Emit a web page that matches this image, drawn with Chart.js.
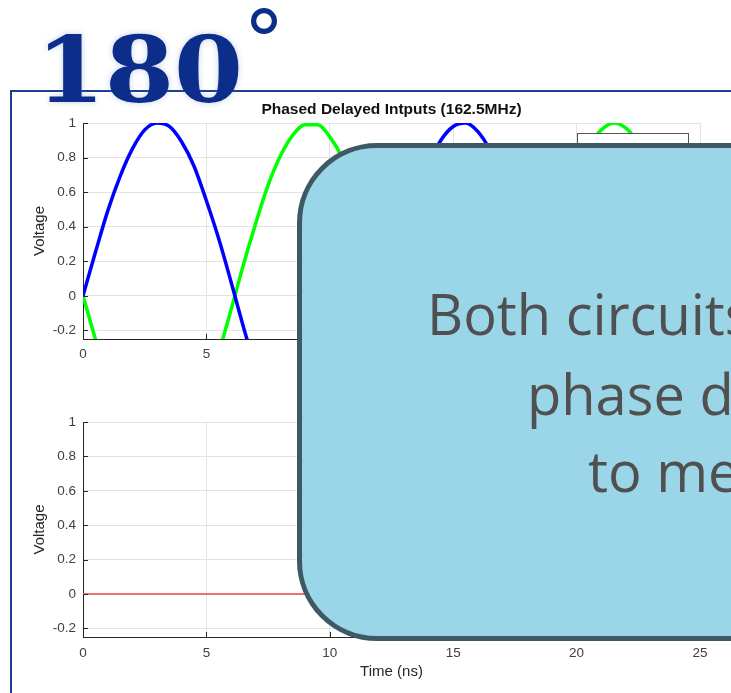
<!DOCTYPE html>
<html>
<head>
<meta charset="utf-8">
<script src="https://cdn.jsdelivr.net/npm/chart.js@4.4.1/dist/chart.umd.min.js"></script>
<style>
  body { margin:0; width:731px; height:693px; overflow:hidden; position:relative; background:#fff; }
  #frame { position:absolute; left:10px; top:90px; width:800px; height:700px; border:2px solid #1f3c96; box-sizing:border-box; }
  .plot { position:absolute; left:0; }
  #heading { position:absolute; left:36px; top:25px; font-family:"DejaVu Serif", serif; font-weight:bold; font-size:91px; line-height:1;
             color:#0c2d8a; transform:scaleX(1.09); transform-origin:left top; white-space:nowrap;
             text-shadow:0 0 6px rgba(90,120,190,0.35); }
  #deg { position:absolute; left:243px; top:-1px; font-family:"DejaVu Sans", sans-serif; font-size:84px; line-height:1; color:#0c2d8a; }
  #note { position:absolute; left:297px; top:143px; width:600px; height:498px; box-sizing:border-box;
          border:5px solid #3e5864; border-radius:80px; background:#9bd5e8; }
  .line { position:absolute; font-family:"Open Sans", sans-serif; font-size:56px; line-height:56px; color:#505050; white-space:nowrap; }
</style>
</head>
<body>
<div id="frame"></div>
<canvas id="chartTop" class="plot" width="731" height="265" style="top:95px"></canvas>
<canvas id="chartBottom" class="plot" width="731" height="298" style="top:395px"></canvas>
<div id="heading">180</div>
<div id="deg">°</div>
<div id="note"></div>
<div class="line" style="left:427px; top:285px">Both circuits provide the</div>
<div class="line" style="left:527px; top:365px">phase delay needed</div>
<div class="line" style="left:588px; top:442px">to meet the spec</div>
<script>
// time axis (ns), sampled every 0.5 ns
const timeNs = [0,0.5,1,1.5,2,2.5,3,3.5,4,4.5,5,5.5,6,6.5,7,7.5,8,8.5,9,9.5,10,10.5,11,11.5,12,12.5,
                13,13.5,14,14.5,15,15.5,16,16.5,17,17.5,18,18.5,19,19.5,20,20.5,21,21.5,22,22.5,23,23.5,24,24.5,25];
// input 1 (blue)
const inputA = [0,0.25,0.49,0.69,0.85,0.96,1.0,0.98,0.89,0.75,0.55,0.33,0.08,-0.18,-0.42,-0.64,-0.81,-0.93,-0.99,-0.99,-0.92,-0.80,-0.62,-0.40,-0.15,0.10,
                0.35,0.58,0.76,0.90,0.98,1.0,0.95,0.84,0.67,0.47,0.23,-0.03,-0.28,-0.51,-0.71,-0.87,-0.96,-1.0,-0.97,-0.88,-0.73,-0.53,-0.30,-0.05,0.20];
// input 2, 180 deg delayed (green)
const inputB = [0,-0.25,-0.49,-0.69,-0.85,-0.96,-1.0,-0.98,-0.89,-0.75,-0.55,-0.33,-0.08,0.18,0.42,0.64,0.81,0.93,0.99,0.99,0.92,0.80,0.62,0.40,0.15,-0.10,
                -0.35,-0.58,-0.76,-0.90,-0.98,-1.0,-0.95,-0.84,-0.67,-0.47,-0.23,0.03,0.28,0.51,0.71,0.87,0.96,1.0,0.97,0.88,0.73,0.53,0.30,0.05,-0.20];
// combined output (red)
const outTime = [0,5,10,15,20,25];
const outVoltage = [0,0,0,0,0,0];

const xTicks = [0,5,10,15,20,25];
const yTicks = [-0.2,0,0.2,0.4,0.6,0.8,1];
const xRange = [0,25];
const yRange = [-0.25,1];

Chart.defaults.font.family = '"Liberation Sans", Arial, sans-serif';
Chart.defaults.color = '#404040';

function pts(xs, ys) { return xs.map((x,i) => ({x:x, y:ys[i]})); }

// matlab style ticks on the inside of the axes
const innerTicks = {
  id: 'innerTicks',
  afterDatasetsDraw(chart) {
    const {ctx, chartArea:a, scales:{x, y}} = chart;
    ctx.save();
    ctx.strokeStyle = '#262626';
    ctx.lineWidth = 1;
    ctx.beginPath();
    x.ticks.forEach(t => { const px = Math.round(x.getPixelForValue(t.value)) + 0.5; ctx.moveTo(px, a.bottom); ctx.lineTo(px, a.bottom - 5); });
    y.ticks.forEach(t => { const py = Math.round(y.getPixelForValue(t.value)) + 0.5; ctx.moveTo(a.left, py); ctx.lineTo(a.left + 5, py); });
    ctx.stroke();
    ctx.restore();
  }
};

const legendBox = {
  id: 'legendBox',
  afterDatasetsDraw(chart) {
    const {ctx, chartArea:a} = chart;
    ctx.save();
    ctx.fillStyle = '#fff';
    ctx.strokeStyle = '#555';
    ctx.lineWidth = 1;
    ctx.fillRect(a.right - 122.5, a.top + 10.5, 111, 40);
    ctx.strokeRect(a.right - 122.5, a.top + 10.5, 111, 40);
    ctx.restore();
  }
};

function scalesFor(showTitle, tickPad, plotTitle) {
  const s = {
    x: {
      type: 'linear', min: xRange[0], max: xRange[1],
      afterBuildTicks: s => { s.ticks = xTicks.map(v => ({value:v})); },
      afterFit: s => { s.height = showTitle ? 56 : 21; },
      grid: { color:'#e3e3e3', drawTicks:false },
      border: { color:'#262626', width:1 },
      ticks: { padding: tickPad, font:{size:13.5} },
      title: { display: showTitle, text:'Time (ns)', color:'#262626', font:{size:15}, padding:{top:0, bottom:12} }
    },
    y: {
      min: yRange[0], max: yRange[1],
      afterBuildTicks: s => { s.ticks = yTicks.map(v => ({value:v})); },
      afterFit: s => { s.width = 83; },
      grid: { color:'#e3e3e3', drawTicks:false },
      border: { color:'#262626', width:1 },
      ticks: { padding:7, font:{size:13.5}, callback: v => String(v) },
      title: { display:true, text:'Voltage', color:'#262626', font:{size:15}, padding:{top:31, bottom:0} }
    }
  };
  if (plotTitle) {
    // empty top axis only used to centre the plot title over the axes
    s.xt = {
      type: 'linear', position: 'top', min: xRange[0], max: xRange[1],
      afterFit: a => { a.height = 28; },
      grid: { display:false }, border: { display:false }, ticks: { display:false },
      title: { display:true, text: plotTitle, color:'#111', font:{size:15.5, weight:'bold'}, padding:{top:5, bottom:0} }
    };
  }
  return s;
}

new Chart(document.getElementById('chartTop'), {
  type: 'line',
  data: {
    datasets: [
      { label:'Input 1', data: pts(timeNs, inputA), borderColor:'#0000ff', borderWidth:3.5, pointRadius:0, cubicInterpolationMode:'monotone' },
      { label:'Input 2', data: pts(timeNs, inputB), borderColor:'#00ff00', borderWidth:3.5, pointRadius:0, cubicInterpolationMode:'monotone' }
    ]
  },
  options: {
    responsive: false, animation: false,
    layout: { padding:{left:0, right:31, top:0, bottom:0} },
    plugins: { legend: { display:false }, tooltip: { enabled:false } },
    scales: scalesFor(false, 7, 'Phased Delayed Intputs (162.5MHz)')
  },
  plugins: [innerTicks, legendBox]
});

new Chart(document.getElementById('chartBottom'), {
  type: 'line',
  data: {
    datasets: [
      { label:'Output', data: pts(outTime, outVoltage), borderColor:'#f07070', borderWidth:2, pointRadius:0 }
    ]
  },
  options: {
    responsive: false, animation: false,
    layout: { padding:{left:0, right:31, top:27, bottom:0} },
    plugins: { legend: { display:false }, tooltip: { enabled:false } },
    scales: scalesFor(true, 8)
  },
  plugins: [innerTicks]
});
</script>
</body>
</html>
